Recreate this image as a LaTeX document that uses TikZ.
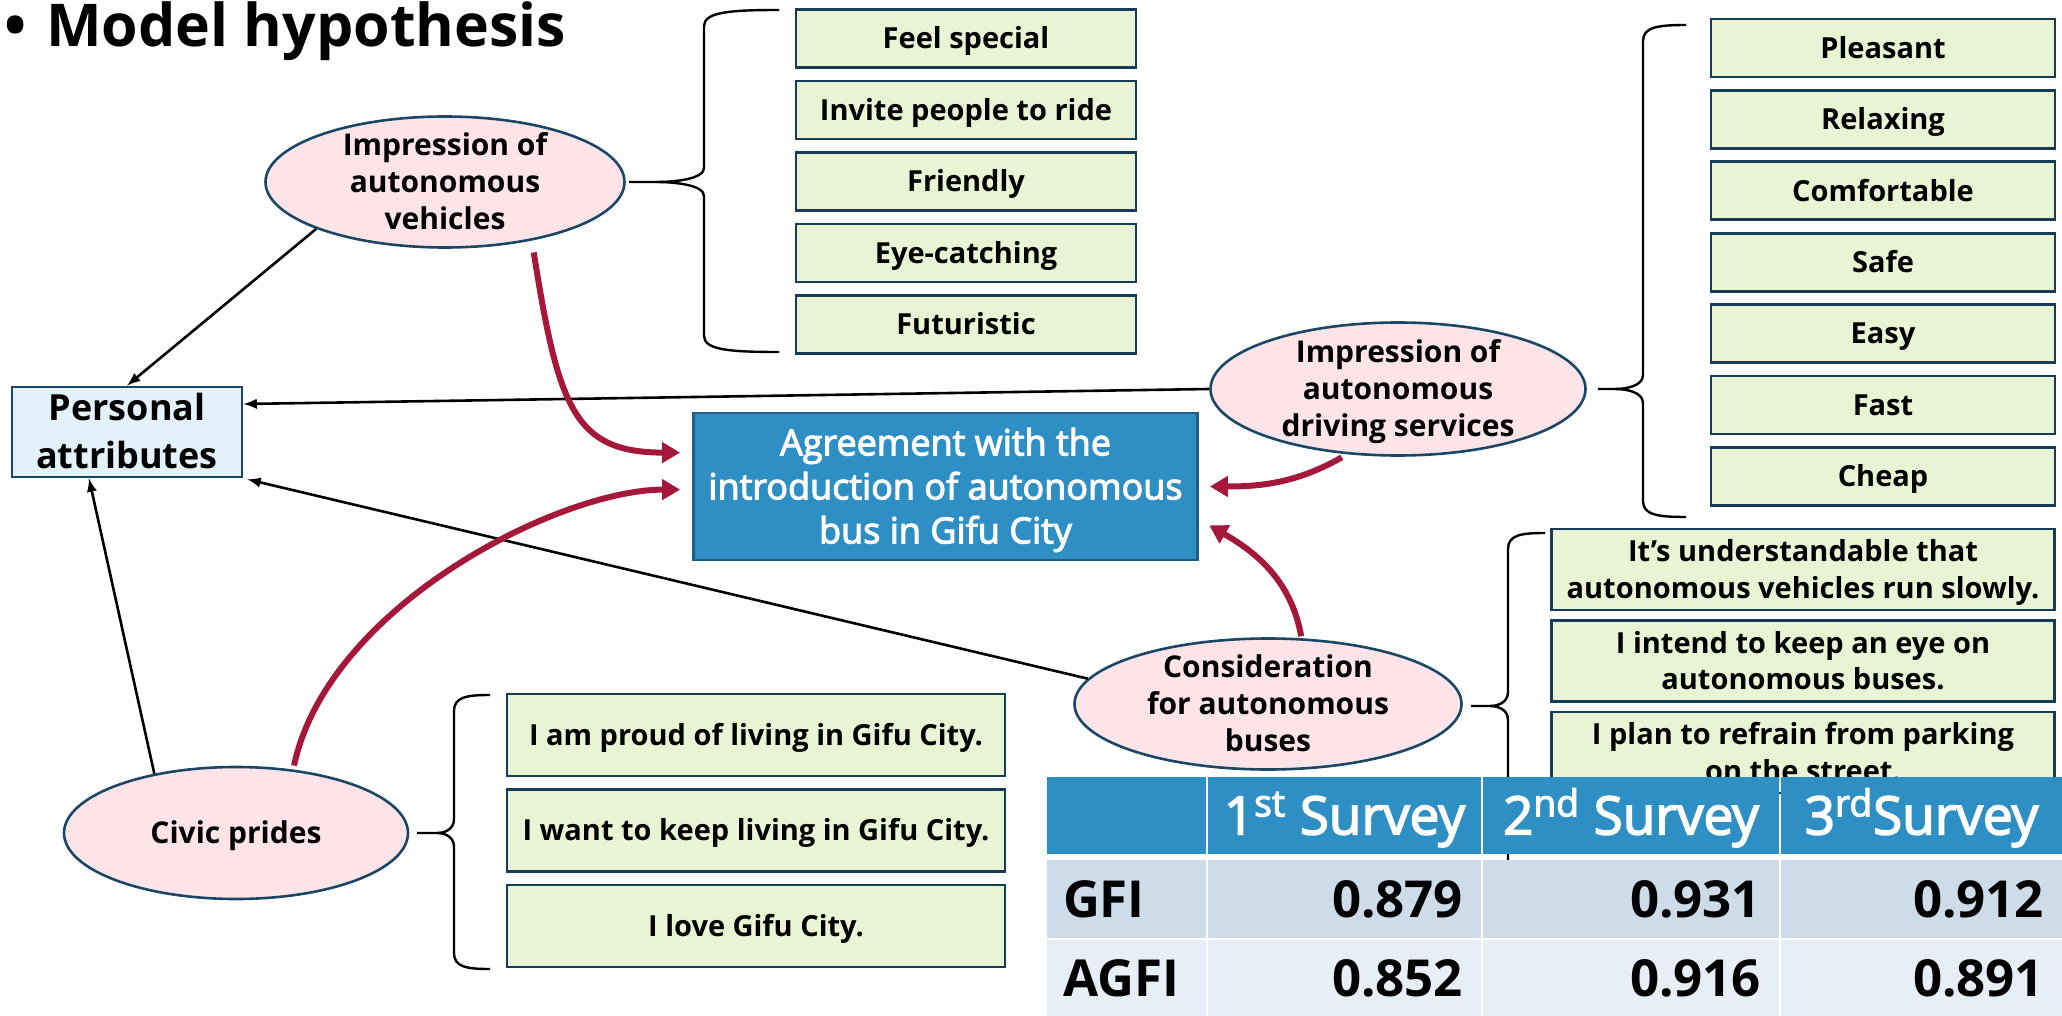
\documentclass[tikz,border=0pt]{standalone}
\usepackage{fontspec}
\setmainfont{Open Sans}
\newfontfamily\medfont{Open Sans}[FakeBold=3]
\usetikzlibrary{shapes.geometric, arrows, arrows.meta, positioning}

\definecolor{ovalpink}{HTML}{FCE4E8}
\definecolor{ovalline}{HTML}{1B4764}
\definecolor{itemgreen}{HTML}{E9F4D4}
\definecolor{itemline}{HTML}{173C57}
\definecolor{attrblue}{HTML}{E3F1FB}
\definecolor{mainblue}{HTML}{2E8FC5}
\definecolor{mainline}{HTML}{1F5C86}
\definecolor{effred}{HTML}{A5173B}
\definecolor{rowa}{HTML}{CEDCE9}
\definecolor{rowb}{HTML}{E8EEF6}

% left curly brace: stem x, cusp x, spine x, arm x, top y, tip y, bottom y
\newcommand{\grpbrace}[7]{%
  \draw[line width=1.2pt] (#4,#5) .. controls ({#3+0.35*(#4-#3)},#5) and (#3,{#5+2}) .. (#3,{#5+16})
    -- (#3,{#6-14}) .. controls (#3,{#6-3}) and ({#2+0.4*(#3-#2)},#6) .. (#2,#6) -- (#1,#6);
  \draw[line width=1.2pt] (#2,#6) .. controls ({#2+0.4*(#3-#2)},#6) and (#3,{#6+3}) .. (#3,{#6+14})
    -- (#3,{#7-16}) .. controls (#3,{#7-2}) and ({#3+0.35*(#4-#3)},#7) .. (#4,#7);
}

\begin{document}
\begin{tikzpicture}[>=latex, x=0.5pt, y=-0.5pt,
  oval/.style={ellipse, draw=ovalline, line width=1.3pt, fill=ovalpink, inner sep=0pt},
  ovaltext/.style={align=center, font=\bfseries\fontsize{15}{18.5}\selectfont, text depth=-2pt, text height=#1},
  ovaltext/.default=47.7pt,
  item/.style={draw=itemline, line width=1.4pt, fill=itemgreen, inner sep=0pt, outer sep=0pt,
    align=center, font=\bfseries\fontsize{14.5}{18.25}\selectfont, text height=10.35pt, text depth=-2.5pt},
  vehbox/.style={item, minimum width=170pt, minimum height=29pt},
  svcbox/.style={item, minimum width=172pt, minimum height=29pt},
  conbox/.style={item, minimum width=251.5pt, minimum height=40.5pt, text height=28.6pt},
  civbox/.style={item, minimum width=249pt, minimum height=41pt},
  effect/.style={-{Triangle[length=9pt,width=10pt]}, draw=effred, line width=3pt},
  link/.style={->, line width=1.3pt},
  cell/.style={inner sep=0pt, outer sep=0pt, font=\bfseries\fontsize{25.5}{30}\selectfont,
    text height=18.2pt, text depth=-4pt},
  hcell/.style={cell, fill=mainblue, text=white, minimum height=38.5pt,
    font=\medfont\fontsize{26.5}{30}\selectfont, text height=18.9pt, text depth=-4.5pt},
  colA/.style={minimum width=79.5pt},
  colB/.style={minimum width=136.5pt},
  colC/.style={minimum width=148pt},
  colD/.style={minimum width=140.5pt}
]
\useasboundingbox (0,0) rectangle (2062,1016);

\node[anchor=base west, font=\bfseries\fontsize{29.5}{34}\selectfont] (title) at (-3,47) {\textbullet\hspace{10pt}Model hypothesis};

% latent variables
\node[oval, minimum width=179.5pt, minimum height=65.5pt,
  label={[ovaltext]center:Impression of\\autonomous\\vehicles}] (iav) at (445,182) {};
\node[oval, minimum width=187.5pt, minimum height=66.5pt,
  label={[ovaltext]center:Impression of\\autonomous\\driving services}] (iads) at (1398,389) {};
\node[oval, minimum width=193.5pt, minimum height=65.5pt,
  label={[ovaltext]center:Consideration\\for autonomous\\buses}] (cons) at (1268,704) {};
\node[oval, minimum width=172pt, minimum height=66pt,
  label={[ovaltext=10.7pt]center:Civic prides}] (civic) at (236,833) {};

\node[draw=ovalline, fill=attrblue, line width=1.4pt, minimum width=115pt, minimum height=45pt,
  align=center, font=\bfseries\fontsize{18}{24}\selectfont, text height=36.9pt, text depth=0pt] (pa) at (127,432) {Personal\\attributes};
\node[draw=mainline, fill=mainblue, line width=1.4pt, text=white, minimum width=252pt, minimum height=73.5pt,
  align=center, font=\medfont\fontsize{18}{22}\selectfont, text height=56.85pt, text depth=0pt] (agree) at (945.5,486.5)
  {Agreement with the\\introduction of autonomous\\bus in Gifu City};

% observed items
\node[vehbox] (iav1) at (966,38.5) {Feel special};
\node[vehbox, below=6.75pt of iav1] (iav2) {Invite people to ride};
\node[vehbox, below=6.75pt of iav2] (iav3) {Friendly};
\node[vehbox, below=6.75pt of iav3] (iav4) {Eye-catching};
\node[vehbox, below=6.75pt of iav4] (iav5) {Futuristic};

\node[svcbox] (iads1) at (1883,48) {Pleasant};
\node[svcbox, below=6.7pt of iads1] (iads2) {Relaxing};
\node[svcbox, below=6.7pt of iads2] (iads3) {Comfortable};
\node[svcbox, below=6.7pt of iads3] (iads4) {Safe};
\node[svcbox, below=6.7pt of iads4] (iads5) {Easy};
\node[svcbox, below=6.7pt of iads5] (iads6) {Fast};
\node[svcbox, below=6.7pt of iads6] (iads7) {Cheap};

\node[conbox] (cons1) at (1803,569.5) {It’s understandable that\\autonomous vehicles run slowly.};
\node[conbox, below=5.25pt of cons1] (cons2) {I intend to keep an eye on\\autonomous buses.};
\node[conbox, below=5.25pt of cons2] (cons3) {I plan to refrain from parking\\on the street.};

\node[civbox] (civ1) at (756,735) {I am proud of living in Gifu City.};
\node[civbox, below=6.75pt of civ1] (civ2) {I want to keep living in Gifu City.};
\node[civbox, below=6.75pt of civ2] (civ3) {I love Gifu City.};

\grpbrace{629}{656}{704}{779}{10}{182}{352}
\grpbrace{1598}{1615}{1643}{1686}{25}{389}{517}
\grpbrace{1471}{1490}{1508}{1545}{533}{706}{879}
\grpbrace{417}{437}{454}{490}{695}{833}{969}

% paths
\draw[link] (iav.200) -- (pa.north);
\draw[link] (iads.west) -- ([yshift=14pt]pa.east);
\draw[link, shorten >=2pt] (cons.172) -- (pa.south east);
\draw[link] (civic.144) -- ([xshift=-19pt]pa.south);

\draw[effect, shorten <=6pt, shorten >=6pt] (iav.-34) to[out=-81, in=180, out distance=84.5pt, in distance=59pt] ([yshift=-20.5pt]agree.north west);
\draw[effect, shorten <=2pt, shorten >=6pt] (civic.48) to[out=78, in=180, out distance=83.5pt, in distance=66.5pt] ([yshift=-39pt]agree.north west);
\draw[effect, shorten <=3pt, shorten >=5.5pt] (iads.-128) to[out=-150, in=0] (agree.east);
\draw[effect, shorten <=1pt, shorten >=6pt] (cons.63) to[out=100, in=-30] ([yshift=21pt]agree.south east);

% fit indices
\node[hcell, colA] (h0) at (1126.5,815.5) {};
\node[hcell, colB, right=1pt of h0] (h1) {1\textsuperscript{st} Survey};
\node[hcell, colC, right=1pt of h1] (h2) {2\textsuperscript{nd} Survey};
\node[hcell, colD, right=1pt of h2] (h3) {3\textsuperscript{rd}Survey};

\node[cell, fill=rowa, colA, minimum height=39pt, below=3pt of h0, text width=63.5pt, inner xsep=8pt, align=left] (g0) {GFI};
\node[cell, fill=rowa, colB, minimum height=39pt, below=3pt of h1, text width=118.5pt, inner xsep=9pt, align=right] (g1) {0.879};
\node[cell, fill=rowa, colC, minimum height=39pt, below=3pt of h2, text width=130pt, inner xsep=9pt, align=right] (g2) {0.931};
\node[cell, fill=rowa, colD, minimum height=39pt, below=3pt of h3, text width=122.5pt, inner xsep=9pt, align=right] (g3) {0.912};

\node[cell, fill=rowb, colA, minimum height=38pt, below=1pt of g0, text width=63.5pt, inner xsep=8pt, align=left] (a0) {AGFI};
\node[cell, fill=rowb, colB, minimum height=38pt, below=1pt of g1, text width=118.5pt, inner xsep=9pt, align=right] (a1) {0.852};
\node[cell, fill=rowb, colC, minimum height=38pt, below=1pt of g2, text width=130pt, inner xsep=9pt, align=right] (a2) {0.916};
\node[cell, fill=rowb, colD, minimum height=38pt, below=1pt of g3, text width=122.5pt, inner xsep=9pt, align=right] (a3) {0.891};
\end{tikzpicture}
\end{document}
